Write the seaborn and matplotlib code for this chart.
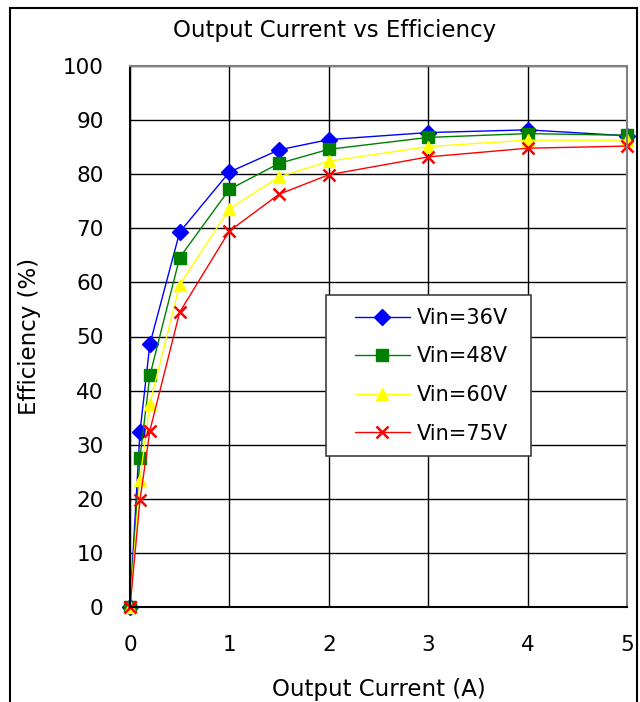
import matplotlib
matplotlib.use("Agg")
import matplotlib.pyplot as plt
from matplotlib.patches import Rectangle
from matplotlib.lines import Line2D
from matplotlib.legend_handler import HandlerLine2D
import seaborn as sns
import pandas as pd

current = [0, 0.1, 0.2, 0.5, 1, 1.5, 2, 3, 4, 5]
vin36 = [0, 32.3, 48.6, 69.3, 80.4, 84.5, 86.4, 87.7, 88.2, 87.1]
vin48 = [0, 27.6, 42.8, 64.6, 77.2, 82.0, 84.6, 86.8, 87.5, 87.2]
vin60 = [0, 23.5, 37.6, 59.6, 73.6, 79.5, 82.4, 85.1, 86.3, 86.3]
vin75 = [0, 19.7, 32.6, 54.5, 69.5, 76.3, 79.9, 83.2, 84.8, 85.2]
series_names = ["Vin=36V", "Vin=48V", "Vin=60V", "Vin=75V"]
colors = ["#0000FF", "#008000", "#FFFF00", "#FF0000"]
markers = ["D", "s", "^", "x"]

sns.set_style("white")
plt.rcParams["font.family"] = ["DejaVu Sans"]
plt.rcParams["text.color"] = "black"
plt.rcParams["axes.labelcolor"] = "black"

fig = plt.figure(figsize=(6.4, 7.02), dpi=100)
ax = fig.add_axes([130/640, 1-607/702, (627-130)/640, (607-66)/702])

sizes = {"D": 8.5, "s": 8, "^": 9, "x": 9}
for name, vals, c, m in zip(series_names, [vin36, vin48, vin60, vin75], colors, markers):
    df = pd.DataFrame({"Current": current, "Efficiency": vals})
    sns.lineplot(data=df, x="Current", y="Efficiency", color=c, marker=m,
                 markersize=sizes[m], markeredgewidth=1.8 if m == "x" else 1.0,
                 markeredgecolor=c, markerfacecolor=c,
                 linewidth=1.0, label=name, ax=ax, sort=False, errorbar=None,
                 clip_on=False)

ax.set_xlim(0, 5)
ax.set_ylim(0, 100)
ax.set_xticks([0, 1, 2, 3, 4, 5])
ax.set_yticks(range(0, 101, 10))
ax.grid(True, color="black", linewidth=1.0)
ax.set_axisbelow(True)
for s in ["top", "right"]:
    ax.spines[s].set_color("#808080")
    ax.spines[s].set_linewidth(1.5)
for s in ["left", "bottom"]:
    ax.spines[s].set_color("black")
    ax.spines[s].set_linewidth(1.5)
ax.tick_params(axis="both", labelsize=15.5, length=5, direction="out", width=1, colors="black")
ax.tick_params(axis="y", pad=14)
ax.tick_params(axis="x", pad=15)
ax.set_xlabel("Output Current (A)", fontsize=16.5, labelpad=17)
ax.set_ylabel("Efficiency (%)", fontsize=16.5, labelpad=16)
fig.text(334.5/640, 1-31/702, "Output Current vs Efficiency", ha="center", va="center",
         fontsize=16.5, color="black")

x0 = (326-130)/497
w = (531-326)/497
y_top = (607-295)/541
h = (455-295)/541
handles, labels = ax.get_legend_handles_labels()
leg = ax.legend(handles, labels, loc="upper left", bbox_to_anchor=(x0, y_top - h, w, h),
                mode="expand",
                fontsize=15, frameon=True, fancybox=False, handlelength=3.4,
                borderpad=0.62, labelspacing=0.89, handletextpad=0.34, borderaxespad=0,
                handler_map={Line2D: HandlerLine2D(xpad=0.75)})
leg.get_frame().set_edgecolor("#404040")
leg.get_frame().set_linewidth(1.2)
leg.get_frame().set_alpha(1)

fig.patches.append(Rectangle((10/640, -0.01), (637-10)/640, 1-8/702+0.01,
                             transform=fig.transFigure, fill=False,
                             edgecolor="black", linewidth=1.5))
fig.savefig("out.png", dpi=100)
